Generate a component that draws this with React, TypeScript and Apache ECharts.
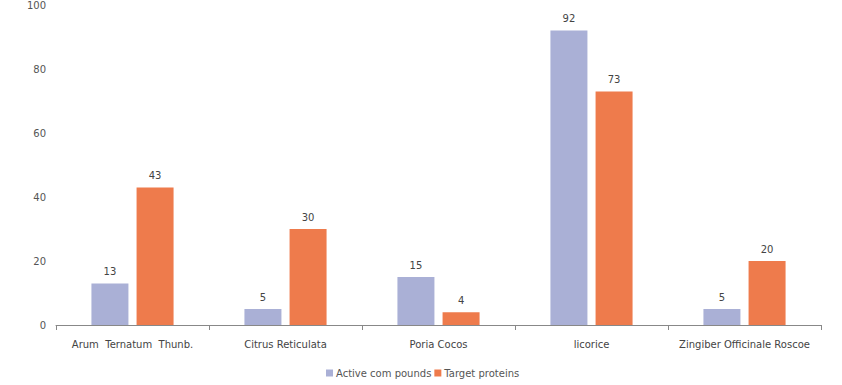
import React, { useEffect, useRef } from "react";
import * as echarts from "echarts";

const categories = ["Arum  Ternatum  Thunb.", "Citrus Reticulata", "Poria Cocos", "licorice", "Zingiber Officinale Roscoe"];
const activeCompounds = [13, 5, 15, 92, 5];
const targetProteins = [43, 30, 4, 73, 20];
const seriesNames = ["Active com pounds", "Target proteins"];

export default function App() {
  const ref = useRef<HTMLDivElement>(null);
  useEffect(() => {
    const chart = echarts.init(ref.current!, null, { renderer: "svg" });
    const font = "DejaVu Sans";
    chart.setOption({
      animation: false,
      backgroundColor: "#ffffff",
      textStyle: { fontFamily: font },
      grid: { left: 56, right: 21, top: 5, bottom: 60, containLabel: false },
      legend: {
        left: 321,
        top: 363,
        itemWidth: 7,
        itemHeight: 7,
        itemGap: 3,
        icon: "rect",
        textStyle: { color: "#555", fontSize: 10, fontFamily: font, padding: [0, 0, 0, -2] },
        data: seriesNames,
      },
      xAxis: {
        type: "category",
        data: categories,
        axisLine: { lineStyle: { color: "#888", width: 1 } },
        axisTick: { show: true, interval: 0, length: 5, lineStyle: { color: "#888" } },
        axisLabel: { color: "#444", fontSize: 10, margin: 14, interval: 0, hideOverlap: false, fontFamily: font },
      },
      yAxis: {
        type: "value",
        min: 0,
        max: 100,
        interval: 20,
        axisLine: { show: false },
        axisTick: { show: false },
        splitLine: { show: false },
        axisLabel: { color: "#555", fontSize: 10, margin: 10, fontFamily: font },
      },
      series: [
        {
          name: seriesNames[0],
          type: "bar",
          data: activeCompounds,
          barWidth: 37,
          barGap: "22%",
          itemStyle: { color: "#AAB0D6" },
          label: { show: true, position: "top", color: "#444", fontSize: 10, distance: 7, fontFamily: font },
        },
        {
          name: seriesNames[1],
          type: "bar",
          data: targetProteins,
          barWidth: 37,
          barGap: "22%",
          itemStyle: { color: "#EE7B4C" },
          label: { show: true, position: "top", color: "#444", fontSize: 10, distance: 7, fontFamily: font },
        },
      ],
    });
    return () => chart.dispose();
  }, []);
  return <div ref={ref} style={{ width: 842, height: 385, position: "absolute", left: 0, top: 0 }} />;
}
